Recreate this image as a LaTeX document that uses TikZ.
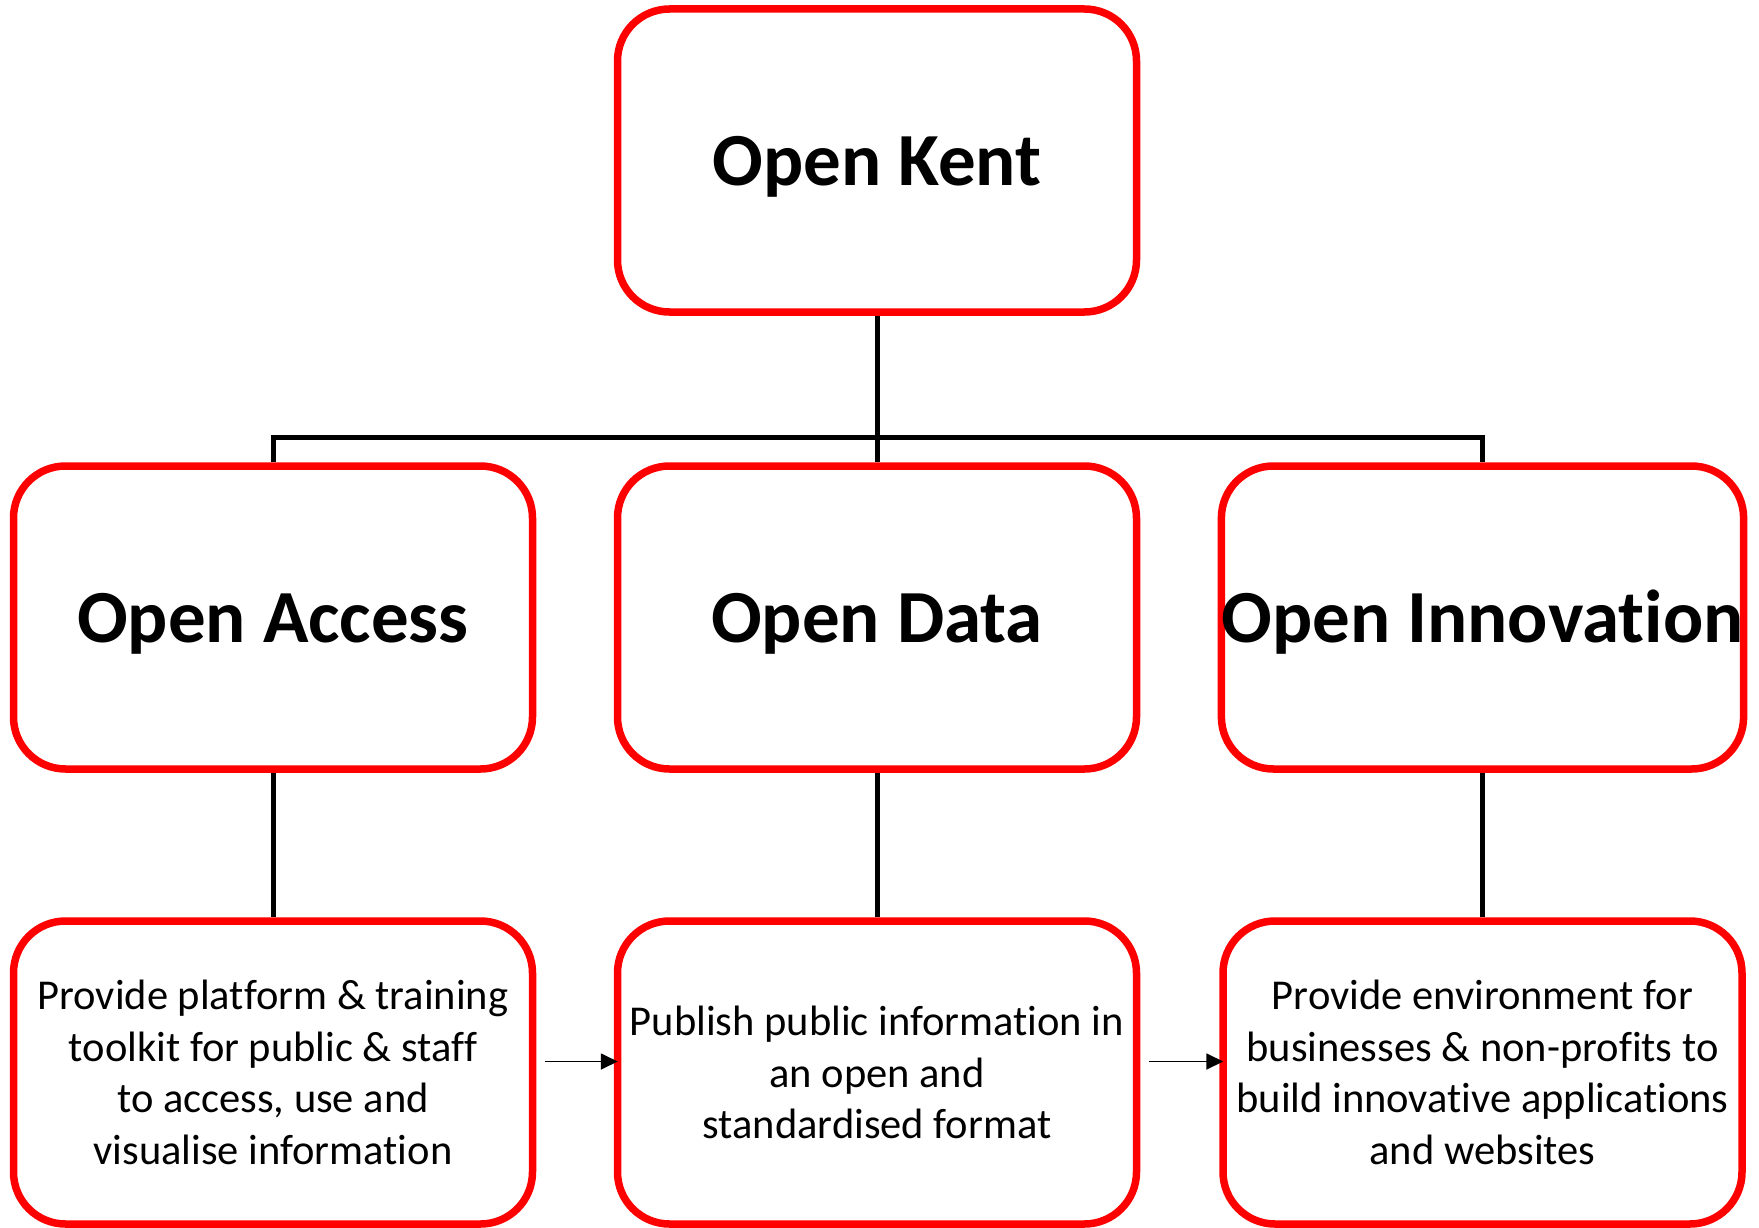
\documentclass[tikz,border=0pt]{standalone}
\usepackage{fontspec}
\setmainfont{Carlito}[Ligatures=CommonOff]
\usetikzlibrary{arrows.meta}
\begin{document}
\begin{tikzpicture}[x=1pt,y=-1pt,
  box/.style={draw=red, line width=7.5pt, fill=white, rounded corners=52pt,
    minimum width=519pt, minimum height=303pt, inner sep=0pt, align=center},
  title/.style={box, font=\fontsize{75}{90}\selectfont\bfseries, text depth=0pt, text height=50pt},
  desc/.style={box, font=\fontsize{42.5}{51.6}\selectfont},
  link/.style={draw=black, line width=5pt},
  flow/.style={draw=black, line width=1.8pt, -{Triangle[length=17pt,width=16pt]}, shorten <=9pt, shorten >=-4pt}]
\useasboundingbox (0,0) rectangle (1759,1228);
\coordinate (junc) at (877,437.5);
\node[title] (top) at (877,160.5) {Open Kent};
\node[title] (oa) at (273,617.5) {Open Access};
\node[title] (od) at (877,617.5) {Open Data};
\node[title] (oi) at (1482.5,617.5) {Open Innovation};
\node[desc] (pa) at (273,1072.5) {Provide platform \& training\\toolkit for public \& staff\\to access, use and\\visualise information};
\node[desc] (pd) at (877,1072.5) {Publish public information in\\an open and\\standardised format};
\node[desc] (pi) at (1482.5,1072.5) {Provide environment for\\businesses \& non-profits to\\build innovative applications\\and websites};
\draw[link] (top.south) -- (od.north);
\draw[link] (oa.north) |- (junc) -| (oi.north);
\draw[link] (oa.south) -- (pa.north);
\draw[link] (od.south) -- (pd.north);
\draw[link] (oi.south) -- (pi.north);
\draw[flow] ([yshift=11pt]pa.east) -- ([yshift=11pt]pd.west);
\draw[flow] ([yshift=11pt]pd.east) -- ([yshift=11pt]pi.west);
\end{tikzpicture}
\end{document}
